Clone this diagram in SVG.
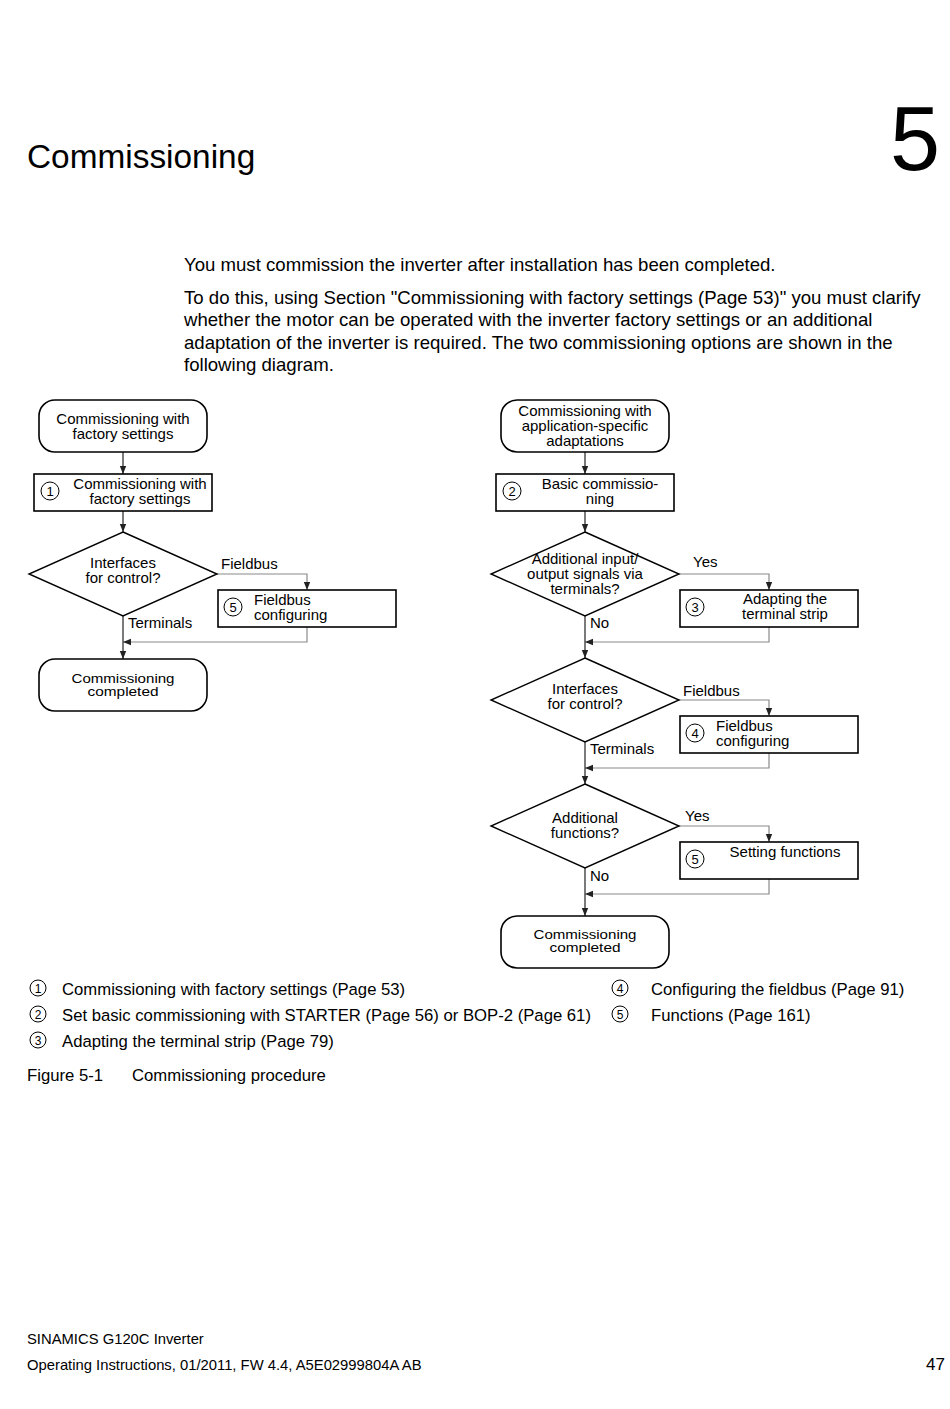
<svg xmlns="http://www.w3.org/2000/svg" width="950" height="1409" viewBox="0 0 950 1409">
<style>
text{font-family:"Liberation Sans",Arial,sans-serif;fill:#000}
.n{font-size:15px;text-anchor:middle}
.l{font-size:15px}
.c{font-size:13px;text-anchor:middle}
.box{fill:#fff;stroke:#000;stroke-width:1.6}
.dia{fill:#fff;stroke:#000;stroke-width:1.4}
.num{fill:none;stroke:#000;stroke-width:1}
.main{fill:none;stroke:#333;stroke-width:1.3}
.side{fill:none;stroke:#8a8a8a;stroke-width:1.2}
.p{font-size:18.6px}
.lg{font-size:16.7px}
.ft{font-size:14.8px}
</style>
<defs>
<marker id="ah" markerUnits="userSpaceOnUse" markerWidth="8" markerHeight="8" viewBox="0 0 8 8" refX="8" refY="4" orient="auto">
<path d="M0,0.8 L8,4 L0,7.2 Z" fill="#222"/>
</marker>
</defs>

<text x="27" y="168" style="font-size:33.4px">Commissioning</text>
<text x="940" y="170" style="font-size:90px;text-anchor:end">5</text>

<text class="p" x="184" y="271">You must commission the inverter after installation has been completed.</text>
<text class="p" x="184" y="304">To do this, using Section "Commissioning with factory settings (Page 53)" you must clarify</text>
<text class="p" x="184" y="326">whether the motor can be operated with the inverter factory settings or an additional</text>
<text class="p" x="184" y="349">adaptation of the inverter is required. The two commissioning options are shown in the</text>
<text class="p" x="184" y="371">following diagram.</text>

<g id="connectors">
<!-- left -->
<line class="main" x1="123" y1="452" x2="123" y2="474" marker-end="url(#ah)"/>
<line class="main" x1="123" y1="511" x2="123" y2="532" marker-end="url(#ah)"/>
<polyline class="side" points="217,574 307,574 307,590" marker-end="url(#ah)"/>
<polyline class="side" points="307,627 307,642 123,642" marker-end="url(#ah)"/>
<line class="main" x1="123" y1="616" x2="123" y2="659" marker-end="url(#ah)"/>
<!-- right -->
<line class="main" x1="585" y1="452" x2="585" y2="474" marker-end="url(#ah)"/>
<line class="main" x1="585" y1="511" x2="585" y2="532" marker-end="url(#ah)"/>
<polyline class="side" points="679,574 769,574 769,590" marker-end="url(#ah)"/>
<polyline class="side" points="769,627 769,642 585,642" marker-end="url(#ah)"/>
<line class="main" x1="585" y1="616" x2="585" y2="658" marker-end="url(#ah)"/>
<polyline class="side" points="679,700 769,700 769,716" marker-end="url(#ah)"/>
<polyline class="side" points="769,753 769,768 585,768" marker-end="url(#ah)"/>
<line class="main" x1="585" y1="742" x2="585" y2="784" marker-end="url(#ah)"/>
<polyline class="side" points="679,826 769,826 769,842" marker-end="url(#ah)"/>
<polyline class="side" points="769,879 769,894 585,894" marker-end="url(#ah)"/>
<line class="main" x1="585" y1="868" x2="585" y2="916" marker-end="url(#ah)"/>
</g>

<g id="labels">
<text class="l" x="221" y="569">Fieldbus</text>
<text class="l" x="128" y="628">Terminals</text>
<text class="l" x="693" y="567">Yes</text>
<text class="l" x="590" y="628">No</text>
<text class="l" x="683" y="696">Fieldbus</text>
<text class="l" x="590" y="754">Terminals</text>
<text class="l" x="685" y="821">Yes</text>
<text class="l" x="590" y="881">No</text>
</g>

<!-- left chart -->
<g id="start-factory">
<rect class="box" x="39" y="400" width="168" height="52" rx="16"/>
<text class="n" x="123" y="424">Commissioning with</text>
<text class="n" x="123" y="439">factory settings</text>
</g>
<g id="step1">
<rect class="box" x="34" y="474" width="178" height="37"/>
<circle class="num" cx="50" cy="491" r="9"/>
<text x="50" y="496" style="font-size:13px;text-anchor:middle">1</text>
<text class="n" x="140" y="489">Commissioning with</text>
<text class="n" x="140" y="504">factory settings</text>
</g>
<g id="dec-left">
<polygon class="dia" points="123,532 217,574 123,616 29,574"/>
<text class="n" x="123" y="568">Interfaces</text>
<text class="n" x="123" y="583">for control?</text>
</g>
<g id="fieldbus-left">
<rect class="box" x="218" y="590" width="178" height="37"/>
<circle class="num" cx="233" cy="607" r="9"/>
<text x="233" y="612" style="font-size:13px;text-anchor:middle">5</text>
<text class="l" x="254" y="605">Fieldbus</text>
<text class="l" x="254" y="620">configuring</text>
</g>
<g id="end-left">
<rect class="box" x="39" y="659" width="168" height="52" rx="16"/>
<text class="c" x="123" y="683" textLength="103" lengthAdjust="spacingAndGlyphs">Commissioning</text>
<text class="c" x="123" y="696" textLength="71" lengthAdjust="spacingAndGlyphs">completed</text>
</g>

<!-- right chart -->
<g id="start-app">
<rect class="box" x="501" y="400" width="168" height="52" rx="16"/>
<text class="n" x="585" y="416">Commissioning with</text>
<text class="n" x="585" y="431">application-specific</text>
<text class="n" x="585" y="446">adaptations</text>
</g>
<g id="step2">
<rect class="box" x="496" y="474" width="178" height="37"/>
<circle class="num" cx="512" cy="491" r="9"/>
<text x="512" y="496" style="font-size:13px;text-anchor:middle">2</text>
<text class="n" x="600" y="489">Basic commissio-</text>
<text class="n" x="600" y="504">ning</text>
</g>
<g id="dec-io">
<polygon class="dia" points="585,532 679,574 585,616 491,574"/>
<text class="n" x="585" y="564">Additional input/</text>
<text class="n" x="585" y="579">output signals via</text>
<text class="n" x="585" y="594">terminals?</text>
</g>
<g id="step3">
<rect class="box" x="680" y="590" width="178" height="37"/>
<circle class="num" cx="695" cy="607" r="9"/>
<text x="695" y="612" style="font-size:13px;text-anchor:middle">3</text>
<text class="n" x="785" y="604">Adapting the</text>
<text class="n" x="785" y="619">terminal strip</text>
</g>
<g id="dec-iface">
<polygon class="dia" points="585,658 679,700 585,742 491,700"/>
<text class="n" x="585" y="694">Interfaces</text>
<text class="n" x="585" y="709">for control?</text>
</g>
<g id="step4">
<rect class="box" x="680" y="716" width="178" height="37"/>
<circle class="num" cx="695" cy="733" r="9"/>
<text x="695" y="738" style="font-size:13px;text-anchor:middle">4</text>
<text class="l" x="716" y="731">Fieldbus</text>
<text class="l" x="716" y="746">configuring</text>
</g>
<g id="dec-func">
<polygon class="dia" points="585,784 679,826 585,868 491,826"/>
<text class="n" x="585" y="823">Additional</text>
<text class="n" x="585" y="838">functions?</text>
</g>
<g id="step5">
<rect class="box" x="680" y="842" width="178" height="37"/>
<circle class="num" cx="695" cy="859" r="9"/>
<text x="695" y="864" style="font-size:13px;text-anchor:middle">5</text>
<text class="n" x="785" y="857">Setting functions</text>
</g>
<g id="end-right">
<rect class="box" x="501" y="916" width="168" height="52" rx="16"/>
<text class="c" x="585" y="939" textLength="103" lengthAdjust="spacingAndGlyphs">Commissioning</text>
<text class="c" x="585" y="952" textLength="71" lengthAdjust="spacingAndGlyphs">completed</text>
</g>

<!-- legend -->
<g id="legend">
<circle class="num" cx="38" cy="988" r="8"/><text x="38" y="993" style="font-size:12px;text-anchor:middle">1</text>
<text class="lg" x="62" y="995">Commissioning with factory settings (Page 53)</text>
<circle class="num" cx="38" cy="1014" r="8"/><text x="38" y="1019" style="font-size:12px;text-anchor:middle">2</text>
<text class="lg" x="62" y="1021">Set basic commissioning with STARTER (Page 56) or BOP-2 (Page 61)</text>
<circle class="num" cx="38" cy="1040" r="8"/><text x="38" y="1045" style="font-size:12px;text-anchor:middle">3</text>
<text class="lg" x="62" y="1047">Adapting the terminal strip (Page 79)</text>
<circle class="num" cx="620" cy="988" r="8"/><text x="620" y="993" style="font-size:12px;text-anchor:middle">4</text>
<text class="lg" x="651" y="995">Configuring the fieldbus (Page 91)</text>
<circle class="num" cx="620" cy="1014" r="8"/><text x="620" y="1019" style="font-size:12px;text-anchor:middle">5</text>
<text class="lg" x="651" y="1021">Functions (Page 161)</text>
<text class="lg" x="27" y="1081">Figure 5-1</text>
<text class="lg" x="132" y="1081">Commissioning procedure</text>
</g>

<text class="ft" x="27" y="1344">SINAMICS G120C Inverter</text>
<text class="ft" x="27" y="1370">Operating Instructions, 01/2011, FW 4.4, A5E02999804A AB</text>
<text x="945" y="1370" style="font-size:17px;text-anchor:end">47</text>
</svg>
